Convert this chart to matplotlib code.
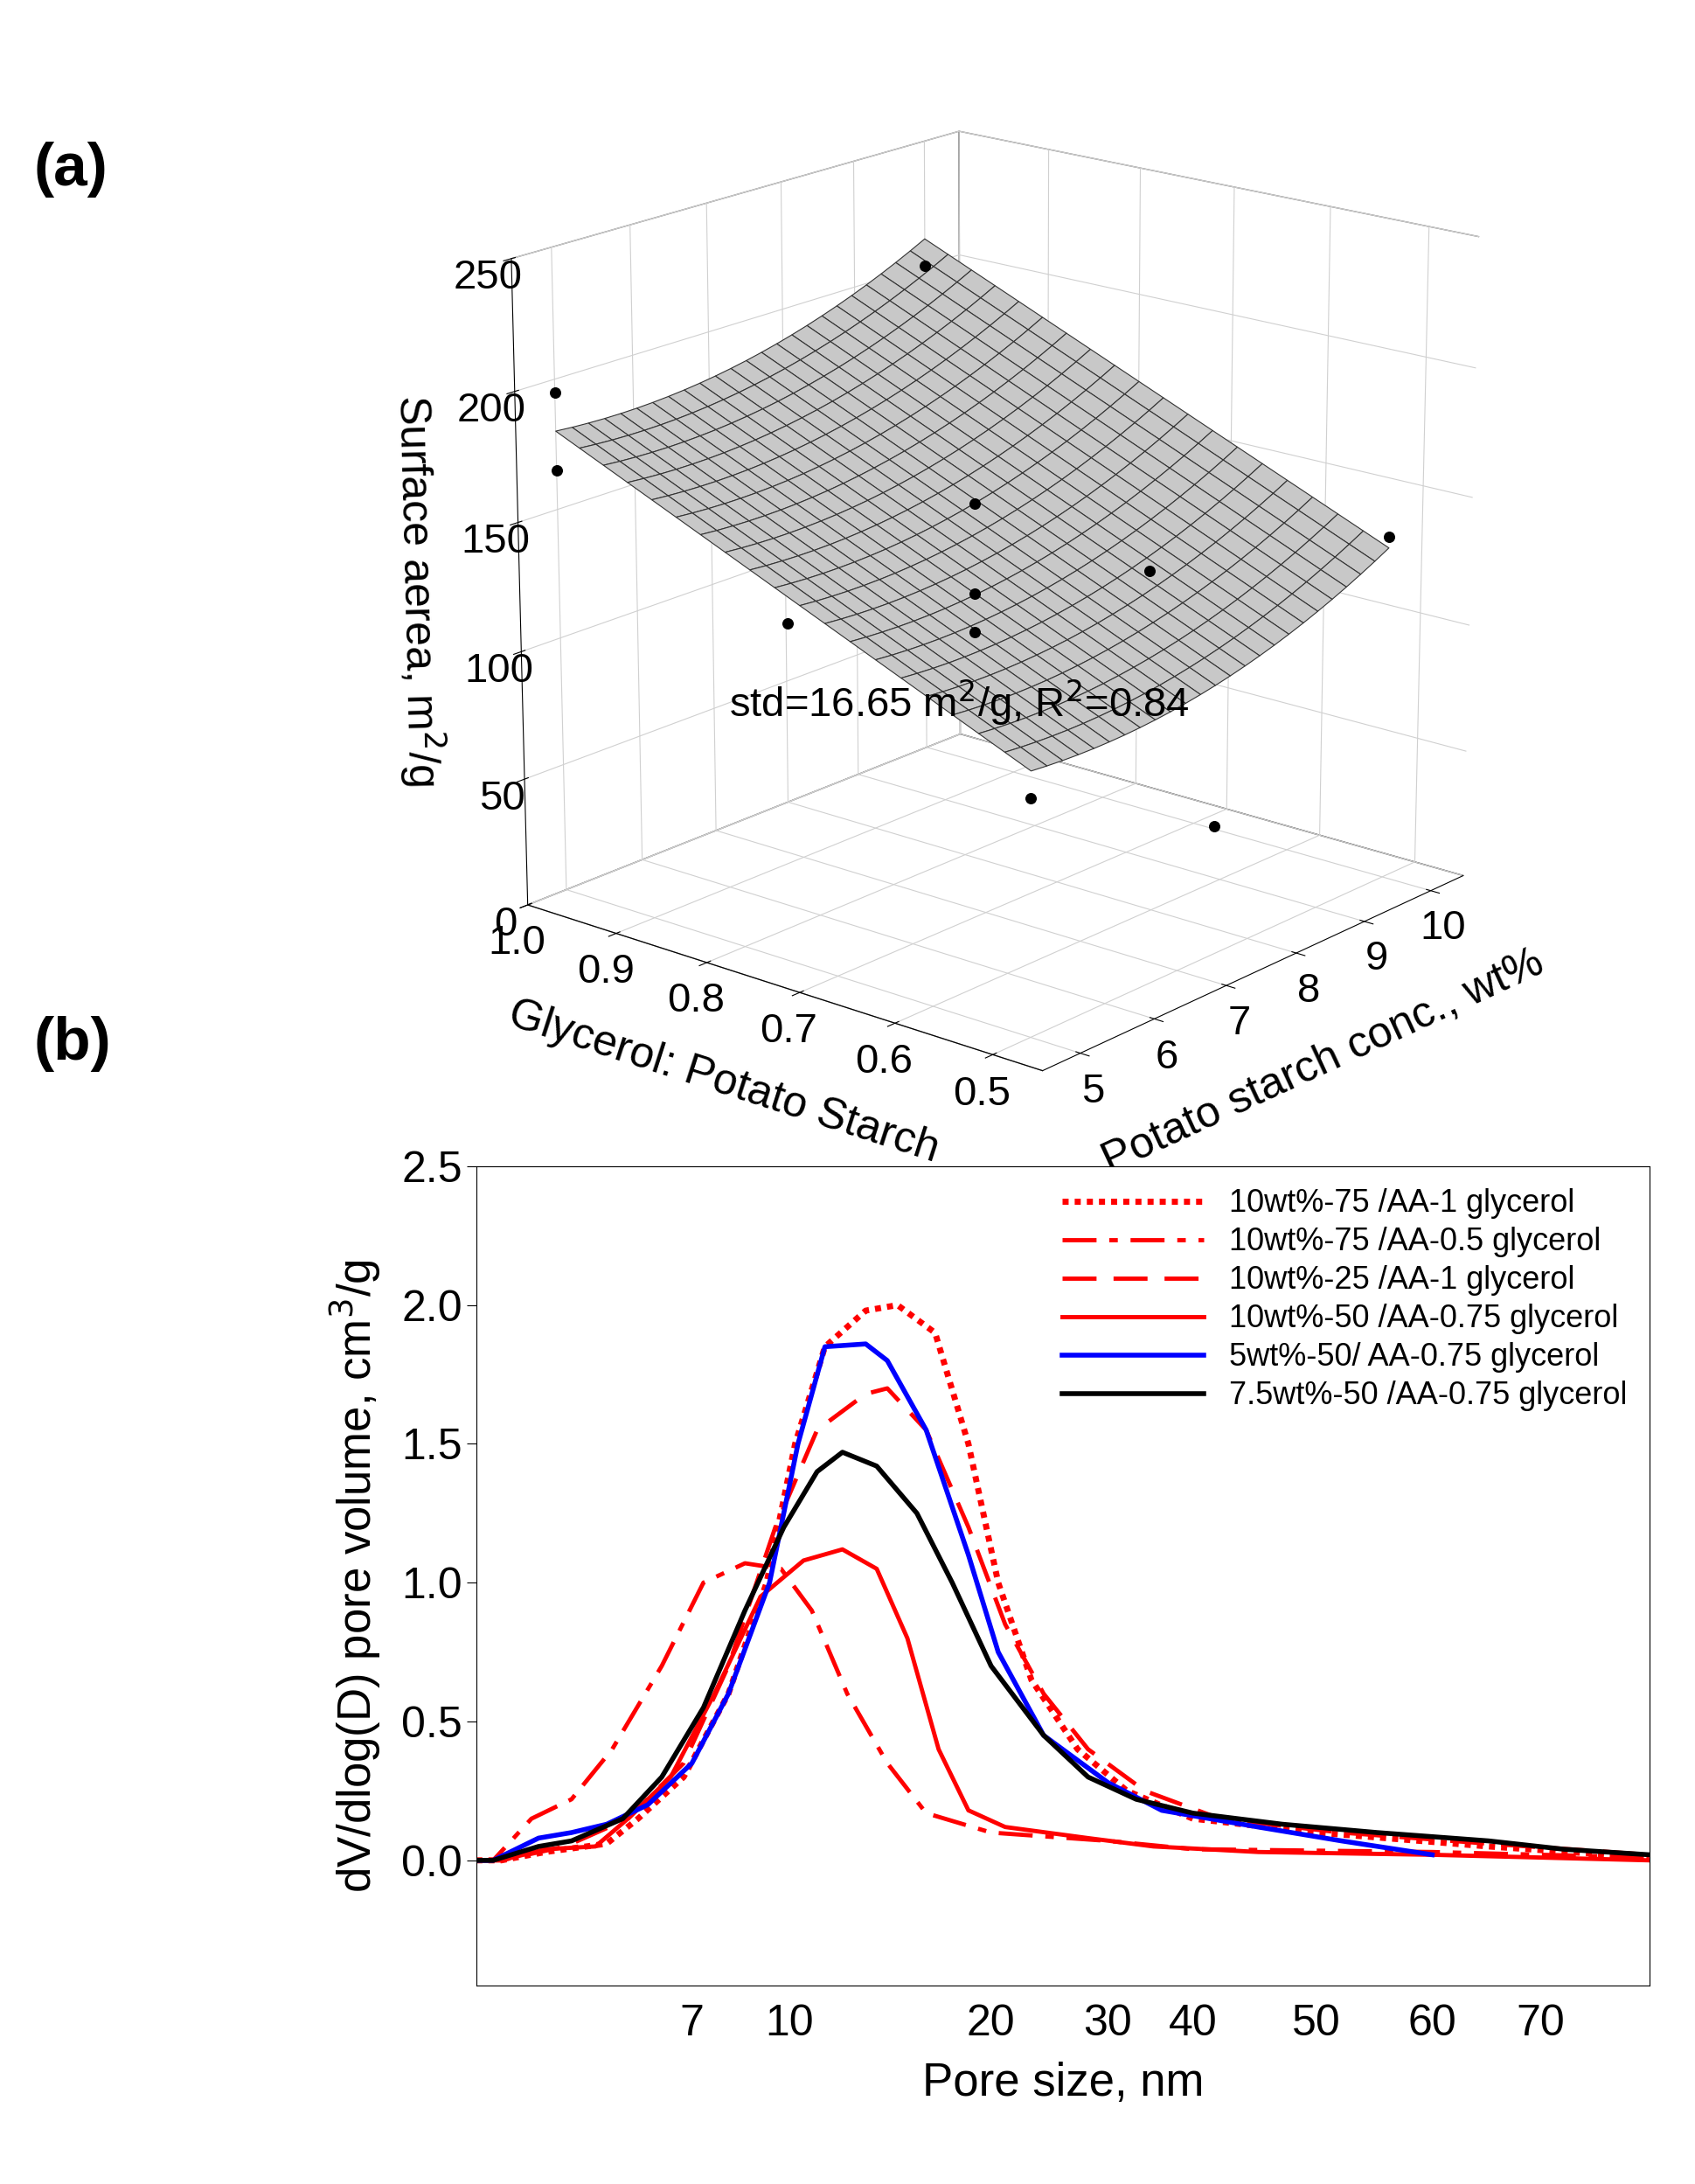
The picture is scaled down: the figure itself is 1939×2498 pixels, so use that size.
import numpy as np
import matplotlib
matplotlib.use("Agg")
import matplotlib.pyplot as plt

plt.rcParams["font.family"] = "Liberation Sans"

# ---- panel (a) data ----
glyc_ticks = [1.0, 0.9, 0.8, 0.7, 0.6, 0.5]
starch_ticks = [5, 6, 7, 8, 9, 10]
z_ticks = [0, 50, 100, 150, 200, 250]
pts_glyc = [1.0, 1.0, 0.75, 0.75, 0.5, 0.5, 0.75, 0.75, 0.5, 1.0, 0.75]
pts_starch = [5, 5, 5, 7.5, 5, 10, 7.5, 7.5, 7.5, 10, 10]
pts_area = [195, 165, 130, 150, 90, 135, 115, 100, 50, 200, 98]

# ---- panel (b) data ----
x_knots = [3.3, 7, 10, 20, 30, 40, 50, 60, 70, 80]
pos_knots = [343, 498, 568, 713, 797, 858, 947, 1030, 1108, 1186]
xticks_b = [7, 10, 20, 30, 40, 50, 60, 70]

d75_1_x = [3.3, 3.6, 4.2, 5.2, 5.8, 6.8, 8, 9.2, 10.2, 11.3, 13, 14.5, 16.5, 18.5, 20.5, 23, 27, 32, 40, 50, 65, 80]
d75_1_y = [0, 0, 0.03, 0.06, 0.15, 0.3, 0.6, 1.0, 1.5, 1.85, 1.98, 2.0, 1.9, 1.5, 1.0, 0.65, 0.4, 0.25, 0.15, 0.1, 0.05, 0.01]
d75_05_x = [3.3, 3.5, 4.0, 4.6, 5.3, 6.3, 7.3, 8.5, 9.7, 10.8, 12.2, 14, 16, 20, 30, 40, 60, 80]
d75_05_y = [0, 0, 0.15, 0.22, 0.4, 0.7, 1.0, 1.07, 1.05, 0.9, 0.6, 0.35, 0.17, 0.1, 0.07, 0.04, 0.03, 0.01]
d25_1_x = [3.3, 3.6, 4.5, 5.6, 6.8, 8, 9.5, 11, 13, 14, 16, 18.5, 21, 24, 28, 34, 42, 52, 65, 80]
d25_1_y = [0, 0, 0.05, 0.15, 0.35, 0.7, 1.2, 1.55, 1.68, 1.7, 1.55, 1.2, 0.85, 0.6, 0.4, 0.25, 0.15, 0.1, 0.06, 0.02]
d50_075_x = [3.3, 3.6, 4.2, 5.0, 5.6, 6.5, 7.6, 9, 10.5, 12, 13.5, 15, 16.7, 18.5, 21, 28, 35, 45, 60, 80]
d50_075_y = [0, 0, 0.04, 0.05, 0.15, 0.3, 0.6, 0.95, 1.08, 1.12, 1.05, 0.8, 0.4, 0.18, 0.12, 0.08, 0.05, 0.03, 0.02, 0.0]
w5_x = [3.3, 3.5, 4.1, 4.6, 5.2, 6, 7, 8, 9.3, 10.3, 11.3, 13, 14, 16, 18.5, 20.5, 24, 30, 36, 45, 52, 60]
w5_y = [0, 0, 0.08, 0.1, 0.13, 0.2, 0.35, 0.6, 1.0, 1.5, 1.85, 1.86, 1.8, 1.55, 1.1, 0.75, 0.45, 0.28, 0.18, 0.12, 0.07, 0.02]
w75_x = [3.3, 3.5, 4.1, 4.6, 5.5, 6.3, 7.3, 8.5, 9.8, 11, 12, 13.5, 15.5, 17.5, 20, 24, 28, 33, 40, 47, 55, 65, 72, 80]
w75_y = [0, 0, 0.05, 0.07, 0.15, 0.3, 0.55, 0.9, 1.2, 1.4, 1.47, 1.42, 1.25, 1.0, 0.7, 0.45, 0.3, 0.22, 0.17, 0.13, 0.1, 0.07, 0.04, 0.02]

fig = plt.figure(figsize=(19.39, 24.98), dpi=100)

# ---------------- (a) ----------------
ax = fig.add_axes([0.2, 0.47, 0.76, 0.52], projection="3d", computed_zorder=False)
g = np.linspace(0.5, 1.0, 20)
c = np.linspace(5, 10, 25)
G, C = np.meshgrid(g, c)
Z = 99 + 160 * (G - 0.5) + 1.8 * (C - 5.8) ** 2
ax.plot_surface(G, C, Z, color="#c8c8c8", edgecolor="#333333", linewidth=0.8,
                shade=False, alpha=1.0, zorder=1)
ax.scatter(pts_glyc, pts_starch, pts_area, color="black", s=70, depthshade=False, zorder=5)
ax.set_xlim(1.0, 0.45)
ax.set_ylim(4.5, 10.5)
ax.set_zlim(0, 250)
ax.set_xticks(glyc_ticks)
ax.set_yticks(starch_ticks)
ax.set_zticks(z_ticks)
ax.tick_params(labelsize=34)
ax.zaxis.set_ticks_position("lower")
ax.zaxis.set_label_position("lower")
for a in (ax.xaxis, ax.yaxis, ax.zaxis):
    a.pane.set_facecolor("white")
    a.pane.set_edgecolor("black")
    a._axinfo["grid"]["color"] = "#d0d0d0"
ax.set_xlabel("Glycerol: Potato Starch", fontsize=36, labelpad=35)
ax.set_ylabel("Potato starch conc., wt%", fontsize=36, labelpad=35)
ax.set_zlabel("Surface aerea, m$^2$/g", fontsize=36, labelpad=30)
ax.view_init(elev=18, azim=-50)
ax.set_box_aspect((1, 1, 1.0))
fig.text(0.43, 0.672, "std=16.65 m$^2$/g, R$^2$=0.84", fontsize=34)
fig.text(0.02, 0.915, "(a)", fontsize=50, fontweight="bold")
fig.text(0.02, 0.515, "(b)", fontsize=50, fontweight="bold")

# ---------------- (b) ----------------
lk = np.log10(x_knots)


def fwd(x):
    x = np.clip(np.asarray(x, dtype=float), 1e-3, None)
    return np.interp(np.log10(x), lk, pos_knots, left=pos_knots[0] - 1, right=pos_knots[-1] + 1)


def inv(p):
    return 10 ** np.interp(p, pos_knots, lk)


bx = fig.add_axes([0.281, 0.091, 0.692, 0.375])
bx.set_xscale("function", functions=(fwd, inv))
red = "#ff0000"
bx.plot(d75_1_x, d75_1_y, color=red, lw=5, ls=(0, (1, 1)), label="10wt%-75 /AA-1 glycerol")
bx.plot(d75_05_x, d75_05_y, color=red, lw=3.5, ls=(0, (8, 3, 2, 3)), label="10wt%-75 /AA-0.5 glycerol")
bx.plot(d25_1_x, d25_1_y, color=red, lw=3.5, ls=(0, (8, 4)), label="10wt%-25 /AA-1 glycerol")
bx.plot(d50_075_x, d50_075_y, color=red, lw=3.5, label="10wt%-50 /AA-0.75 glycerol")
bx.plot(w5_x, w5_y, color="#0000ff", lw=4, label="5wt%-50/ AA-0.75 glycerol")
bx.plot(w75_x, w75_y, color="black", lw=4, label="7.5wt%-50 /AA-0.75 glycerol")
bx.set_xlim(3.3, 80)
bx.set_ylim(-0.45, 2.5)
bx.set_xticks(xticks_b)
bx.set_xticklabels([str(t) for t in xticks_b])
bx.minorticks_off()
bx.set_yticks([0, 0.5, 1.0, 1.5, 2.0, 2.5])
bx.set_yticklabels(["0.0", "0.5", "1.0", "1.5", "2.0", "2.5"])
bx.tick_params(labelsize=36, length=8, direction="out")
bx.tick_params(axis="x", length=0, pad=15)
bx.set_xlabel("Pore size, nm", fontsize=38, labelpad=15)
bx.set_ylabel("dV/dlog(D) pore volume, cm$^3$/g", fontsize=38, labelpad=15)
bx.legend(loc="upper right", fontsize=26, frameon=False, handlelength=4.5, borderaxespad=0.3, labelspacing=0.25)

fig.savefig("out.png", dpi=100)
